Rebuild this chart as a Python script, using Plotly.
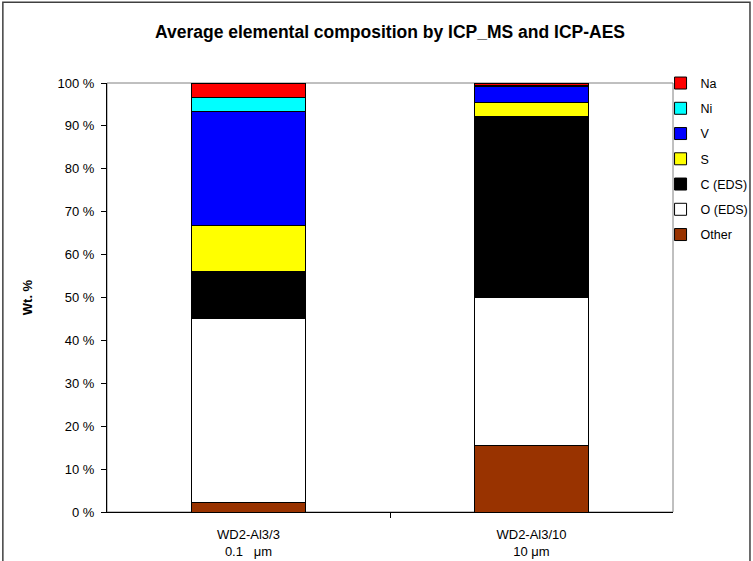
import plotly.graph_objects as go

# Samples (x categories) and their tick labels
samples = [0, 1]
sample_labels = ["WD2-Al3/3<br>0.1\u00a0\u00a0 μm", "WD2-Al3/10<br>10 μm"]

# Component shares, wt. % (stacked bottom to top)
other = [2.2, 15.5]
o_eds = [42.9, 34.5]
c_eds = [10.9, 42.3]
sulfur = [10.8, 3.1]
vanadium = [26.5, 3.7]
nickel = [3.3, 0.3]
sodium = [3.4, 0.6]

y_ticks = [0, 10, 20, 30, 40, 50, 60, 70, 80, 90, 100]
y_tick_text = [f"{v} %" for v in y_ticks]

series = [
    ("Other", other, "#993300"),
    ("O (EDS)", o_eds, "#FFFFFF"),
    ("C (EDS)", c_eds, "#000000"),
    ("S", sulfur, "#FFFF00"),
    ("V", vanadium, "#0000FF"),
    ("Ni", nickel, "#00FFFF"),
    ("Na", sodium, "#FF0000"),
]

FONT = "Liberation Sans, Arial, sans-serif"

fig = go.Figure()
n = len(series)
for i, (name, vals, color) in enumerate(series):
    fig.add_trace(go.Bar(
        x=samples, y=vals, name=name, legendgroup=name,
        legendrank=n - i,
        marker=dict(color=color, line=dict(color="#000000", width=1)),
        width=0.4,
    ))

# invisible trace carrying the tick mark between the two categories
fig.add_trace(go.Scatter(x=[0.5], y=[0], xaxis="x2", mode="markers",
                         marker=dict(opacity=0), showlegend=False,
                         hoverinfo="skip"))

fig.update_layout(
    width=753, height=561,
    margin=dict(l=107, r=80, t=83, b=49, autoexpand=False),
    paper_bgcolor="white", plot_bgcolor="white",
    barmode="stack",
    font=dict(family=FONT, size=13, color="#000000"),
    title=dict(text="<b>Average elemental composition by ICP_MS and ICP-AES</b>",
               x=0.5, xref="paper", xanchor="center",
               y=1 - 32 / 561, yanchor="middle",
               font=dict(family=FONT, size=17.5, color="#000000")),
    xaxis=dict(range=[-0.5, 1.5], tickvals=samples, ticktext=sample_labels,
               ticks="", showgrid=False, zeroline=False,
               showline=True, linecolor="#000000", linewidth=1,
               tickfont=dict(size=13), ticklabelstandoff=10),
    xaxis2=dict(range=[-0.5, 1.5], overlaying="x", side="bottom",
                tickvals=[0.5], ticktext=[""], ticks="outside", ticklen=5,
                tickcolor="#000000", showgrid=False, zeroline=False,
                showline=False),
    yaxis=dict(range=[0, 100], tickvals=y_ticks, ticktext=y_tick_text,
               ticks="outside", ticklen=5, tickcolor="#000000",
               showgrid=False, zeroline=False,
               showline=True, linecolor="#000000", linewidth=1,
               tickfont=dict(size=13), ticklabelstandoff=4,
               title=dict(text="<b>Wt. %</b>", font=dict(size=13), standoff=21)),
    legend=dict(traceorder="grouped", tracegroupgap=6,
                x=0.978, xanchor="left", y=1.034, yanchor="top",
                font=dict(size=12.5), bgcolor="rgba(0,0,0,0)",
                itemclick=False),
    showlegend=True,
    shapes=[
        # plot-area frame
        dict(type="rect", xref="paper", yref="paper", x0=0, x1=1, y0=0, y1=1,
             line=dict(color="#808080", width=1), layer="below"),
        # outer chart border
        dict(type="rect", xref="paper", yref="paper",
             x0=-0.184, x1=1.136, y0=-0.2, y1=1.188,
             line=dict(color="#404040", width=1.5), layer="above"),
    ],
)

fig.write_html("out.html")
